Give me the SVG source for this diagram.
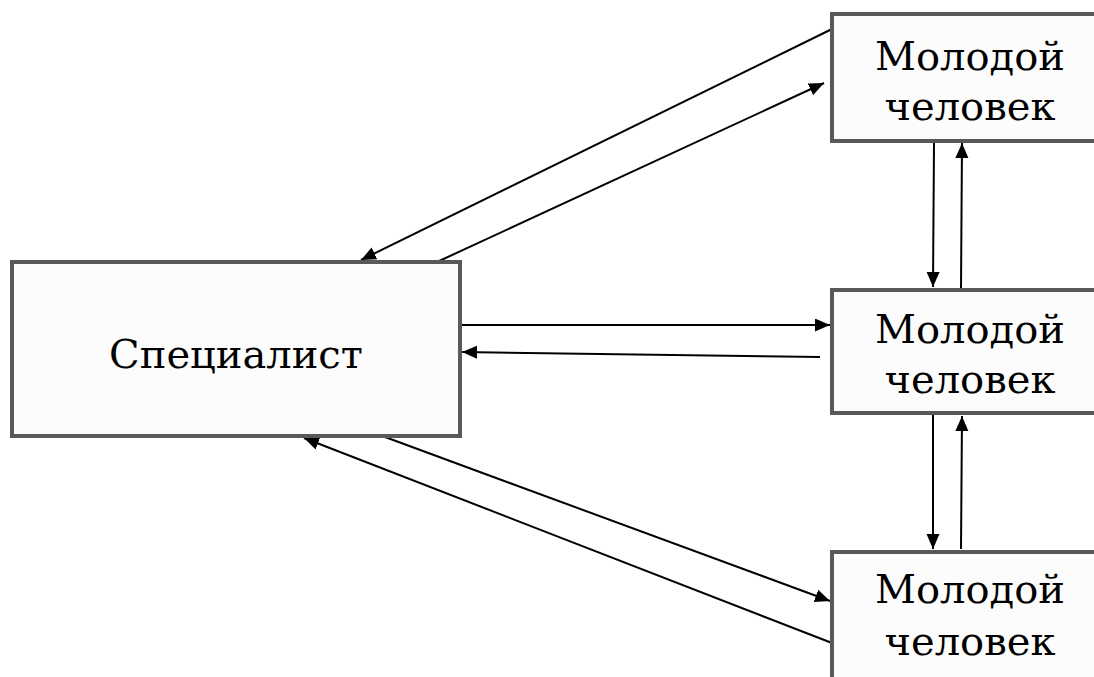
<svg xmlns="http://www.w3.org/2000/svg" width="1094" height="677" viewBox="0 0 1094 677">
<defs>
<style>
.box{fill:#fcfcfc;stroke:#595959;stroke-width:4}
.lbl{font-family:"DejaVu Serif","Liberation Serif",serif;font-size:40px;fill:#000;text-anchor:middle}
.c{stroke:#000;stroke-width:2;fill:none}
.a{marker-end:url(#arr)}
</style>
<marker id="arr" markerUnits="userSpaceOnUse" markerWidth="16" markerHeight="14" refX="15" refY="6.5" orient="auto">
<path d="M0,0 L15,6.5 L0,13 z" fill="#000"/>
</marker>
</defs>
<rect width="1094" height="677" fill="#fff"/>
<g id="connectors">
<line class="c a" x1="832" y1="29" x2="361" y2="260"/>
<line class="c a" x1="437" y1="262" x2="824" y2="83"/>
<line class="c a" x1="462" y1="325" x2="830" y2="325"/>
<line class="c a" x1="820" y1="357" x2="462" y2="352"/>
<line class="c a" x1="385" y1="437" x2="830" y2="601"/>
<line class="c a" x1="832" y1="643" x2="304" y2="438"/>
<line class="c a" x1="934" y1="143" x2="933" y2="287"/>
<line class="c a" x1="961" y1="288" x2="962" y2="143"/>
<line class="c a" x1="933" y1="415" x2="933" y2="549"/>
<line class="c a" x1="961" y1="549" x2="962" y2="416"/>
</g>
<g id="specialist">
<rect class="box" x="12" y="262" width="448" height="174"/>
<text class="lbl" x="236" y="368">Специалист</text>
</g>
<g id="young1">
<rect class="box" x="832" y="14" width="280" height="127"/>
<text class="lbl" x="970" y="70">Молодой</text>
<text class="lbl" x="970" y="120">человек</text>
</g>
<g id="young2">
<rect class="box" x="832" y="290" width="280" height="123"/>
<text class="lbl" x="970" y="343">Молодой</text>
<text class="lbl" x="970" y="393">человек</text>
</g>
<g id="young3">
<rect class="box" x="832" y="552" width="280" height="200"/>
<text class="lbl" x="970" y="603">Молодой</text>
<text class="lbl" x="970" y="655">человек</text>
</g>
</svg>
